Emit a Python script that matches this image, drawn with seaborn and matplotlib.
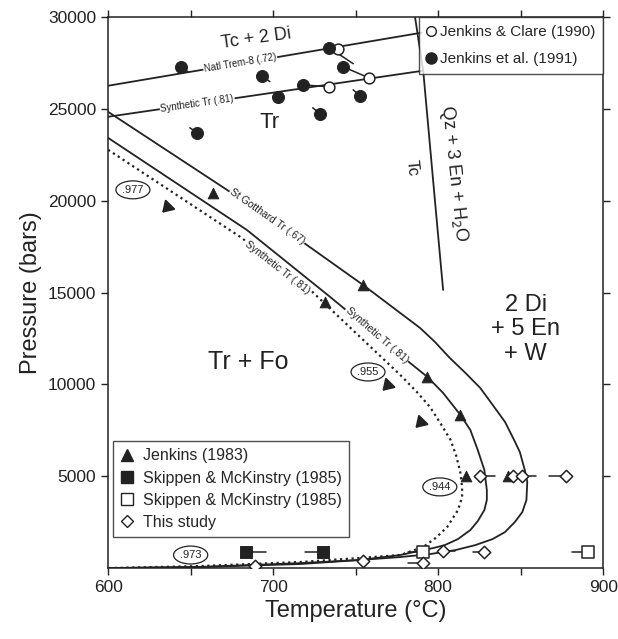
import matplotlib.pyplot as plt
from matplotlib.lines import Line2D
import seaborn as sns

# reaction curves (T in degC, P in bars)
gotthard_T = [600, 672, 716, 754.5, 789, 798, 807, 816.5, 825.5, 833.5, 840.5, 846, 849.5, 852.5, 854,
              853.5, 851, 846.5, 840.5, 833, 822.5, 810.5, 795, 777, 752.5, 716.5, 656, 600]
gotthard_P = [24850, 20600, 17880, 15420, 13080, 12320, 11450, 10630, 9810, 8830, 7960, 6980, 6320, 5340, 4700,
              3710, 3050, 2510, 1960, 1580, 1250, 980, 760, 600, 440, 270, 60, 0]

synth_T = [600, 684, 734.5, 783, 793.5, 803, 813.5, 819.5, 824, 828, 829.5, 829.5, 828, 824, 819.5,
           812, 804, 797, 791, 777, 752.5, 716.5, 656, 600]
synth_P = [23430, 18420, 14770, 11170, 10410, 9540, 8340, 7520, 6430, 5340, 4250, 3710, 3160, 2560, 2070,
           1580, 1250, 1090, 980, 710, 440, 220, 60, 0]

dotted_T = [600, 680, 722.5, 777, 787, 795, 801.5, 807.5, 811, 813.5, 814.5, 814.5, 812, 805.5, 798.5,
            791, 777, 752.5, 716.5, 656, 600]
dotted_P = [22780, 18040, 15150, 10520, 9600, 8780, 7870, 6980, 6100, 5180, 4400, 3870, 3160, 2240, 1640,
            1150, 710, 550, 330, 110, 0]

natl_T = [600, 790]
natl_P = [26270, 29160]
synline_T = [600, 791]
synline_P = [24580, 27090]
tc_T = [786, 791, 798, 803]
tc_P = [30000, 27030, 20060, 15150]

# experiments
jc90_T = [739, 758, 734]
jc90_P = [28290, 26700, 26210]

j91_T = [644, 693.5, 703, 718, 734, 742.5, 752.5, 728.5, 654]
j91_P = [27300, 26810, 25670, 26320, 28340, 27300, 25720, 24740, 23710]
j91_tail_T = [648.5, 698, 703, 734, 748.5, 758, 748.5, 724, 649.5]
j91_tail_P = [27030, 26490, 25670, 26210, 27470, 26700, 26050, 25070, 23980]

j83_T = [663.5, 754.5, 731.5, 793.5, 813.5, 817, 842.5]
j83_P = [20440, 15420, 14500, 10410, 8340, 5000, 5000]
arrow_T = [631.5, 765, 785]
arrow_P = [19240, 9540, 7520]

sk_fill_T = [683.5, 730.5]
sk_fill_P = [900, 900]
sk_fill_tail = [695.5, 719.5]
sk_open_T = [791, 891]
sk_open_P = [900, 900]
sk_open_tail = [782, 881]

study_T = [825.5, 845.5, 851, 877.5, 689, 754.5, 791, 803, 827.5]
study_P = [5000, 5000, 5000, 5000, 100, 400, 300, 950, 850]
study_tail = [834.5, 845.5, 859, 867, 689, 754.5, 782, 810, 821]

xfe_labels = [".977", ".955", ".944", ".973"]
xfe_T = [615, 757.5, 801, 650]
xfe_P = [20600, 10680, 4420, 710]

sns.set_theme(style="ticks")
plt.rcParams['font.family'] = ['Liberation Sans', 'DejaVu Sans']
ink = "#222222"

fig, ax = plt.subplots(figsize=(6.18, 6.39), dpi=100)
fig.subplots_adjust(left=0.175, right=0.976, top=0.973, bottom=0.111)

for xs, ys in [(gotthard_T, gotthard_P), (synth_T, synth_P), (natl_T, natl_P),
               (synline_T, synline_P), (tc_T, tc_P)]:
    sns.lineplot(x=xs, y=ys, sort=False, estimator=None, color=ink, lw=1.3, ax=ax)
sns.lineplot(x=dotted_T, y=dotted_P, sort=False, estimator=None, color=ink,
             lw=1.6, linestyle=(0, (1, 1.6)), ax=ax)

# tails on symbols
for t0, p0, t1, p1 in zip(j91_T, j91_P, j91_tail_T, j91_tail_P):
    ax.plot([t0, t1], [p0, p1], color=ink, lw=1.1)
for t0, p0, t1 in zip(sk_fill_T + sk_open_T + study_T, sk_fill_P + sk_open_P + study_P,
                      sk_fill_tail + sk_open_tail + study_tail):
    ax.plot([t0, t1], [p0, p0], color=ink, lw=1.1)

sns.scatterplot(x=jc90_T, y=jc90_P, marker='o', s=60, facecolor='white', edgecolor=ink, linewidth=1.1, ax=ax, zorder=5)
sns.scatterplot(x=j91_T, y=j91_P, marker='o', s=75, color=ink, edgecolor=ink, ax=ax, zorder=5)
sns.scatterplot(x=j83_T, y=j83_P, marker='^', s=60, color=ink, edgecolor=ink, ax=ax, zorder=5)
sns.scatterplot(x=sk_fill_T, y=sk_fill_P, marker='s', s=70, color=ink, edgecolor=ink, ax=ax, zorder=5)
sns.scatterplot(x=sk_open_T, y=sk_open_P, marker='s', s=70, facecolor='white', edgecolor=ink, linewidth=1.1, ax=ax, zorder=5)
sns.scatterplot(x=study_T, y=study_P, marker='D', s=40, facecolor='white', edgecolor=ink, linewidth=1.1, ax=ax, zorder=5)

for t, p in zip(arrow_T, arrow_P):
    ax.annotate("", xy=(t, p), xytext=(t + 5.5, p + 500),
                arrowprops=dict(arrowstyle='-|>,head_length=0.55,head_width=0.35', color=ink, lw=1.5))

for lab, t, p in zip(xfe_labels, xfe_T, xfe_P):
    ax.text(t, p, lab, fontsize=8, ha='center', va='center', color=ink,
            bbox=dict(boxstyle='ellipse,pad=0.12', fc='white', ec=ink, lw=0.9))

# field and curve labels
wb = dict(boxstyle='square,pad=0.08', fc='white', ec='none')
ax.text(690, 28850, "Tc + 2 Di", fontsize=13, rotation=8, ha='center', va='center', color=ink)
ax.text(680, 27523, "Natl Trem-8 (.72)", fontsize=7, rotation=9.6, ha='center', va='center', color=ink, bbox=wb)
ax.text(654, 25288, "Synthetic Tr (.81)", fontsize=7, rotation=8.3, ha='center', va='center', color=ink, bbox=wb)
ax.text(698, 24250, "Tr", fontsize=16, ha='center', va='center', color=ink)
ax.text(696.5, 19130, "St Gotthard Tr (.67)", fontsize=7.5, rotation=-35, ha='center', va='center', color=ink, bbox=wb)
ax.text(702.5, 16350, "Synthetic Tr (.81)", fontsize=7.5, rotation=-38, ha='center', va='center', color=ink, bbox=wb)
ax.text(763, 12698, "Synthetic Tr (.81)", fontsize=7.5, rotation=-41, ha='center', va='center', color=ink, bbox=wb)
ax.text(685, 11230, "Tr + Fo", fontsize=18, ha='center', va='center', color=ink)
ax.text(853, 13000, "2 Di\n+ 5 En\n+ W", fontsize=17, ha='center', va='center', color=ink, linespacing=1.15)
ax.text(784, 21800, "Tc", fontsize=12, rotation=-84, ha='center', va='center', color=ink)
ax.text(809.5, 21500, "Qz + 3 En + H$_2$O", fontsize=13, rotation=-84, ha='center', va='center', color=ink)

ax.set_xlim(600, 900)
ax.set_ylim(0, 30000)
ax.set_xticks(range(600, 901, 50))
ax.set_xticklabels(["600", "", "700", "", "800", "", "900"])
ax.set_yticks(range(5000, 30001, 5000))
ax.tick_params(direction='out', top=True, right=True, length=5, width=1, labelsize=12.5, colors=ink)
for s in ax.spines.values():
    s.set_visible(True)
    s.set_color(ink)
    s.set_linewidth(1.1)
ax.set_xlabel("Temperature (\u00b0C)", fontsize=17, color=ink)
ax.set_ylabel("Pressure (bars)", fontsize=17, color=ink)

h_top = [Line2D([], [], marker='o', ls='', mfc='white', mec=ink, ms=7),
         Line2D([], [], marker='o', ls='', mfc=ink, mec=ink, ms=8)]
leg1 = ax.legend(h_top, ["Jenkins & Clare (1990)", "Jenkins et al. (1991)"], loc='upper right',
                 borderaxespad=0, fontsize=11, frameon=True, fancybox=False, edgecolor=ink,
                 handlelength=0.6, handletextpad=0.3, borderpad=0.5, labelspacing=0.85)
leg1.get_frame().set_linewidth(1.0)
ax.add_artist(leg1)

h_bot = [Line2D([], [], marker='^', ls='', mfc=ink, mec=ink, ms=8),
         Line2D([], [], marker='s', ls='', mfc=ink, mec=ink, ms=8),
         Line2D([], [], marker='s', ls='', mfc='white', mec=ink, ms=8),
         Line2D([], [], marker='D', ls='', mfc='white', mec=ink, ms=6)]
leg2 = ax.legend(h_bot, ["Jenkins (1983)", "Skippen & McKinstry (1985)", "Skippen & McKinstry (1985)", "This study"],
                 loc='lower left', bbox_to_anchor=(0.01, 0.056), borderaxespad=0, fontsize=11.5,
                 frameon=True, fancybox=False, edgecolor=ink, handlelength=0.8, handletextpad=0.6,
                 borderpad=0.45, labelspacing=0.45)
leg2.get_frame().set_linewidth(1.0)

fig.savefig("out.png", dpi=100)
